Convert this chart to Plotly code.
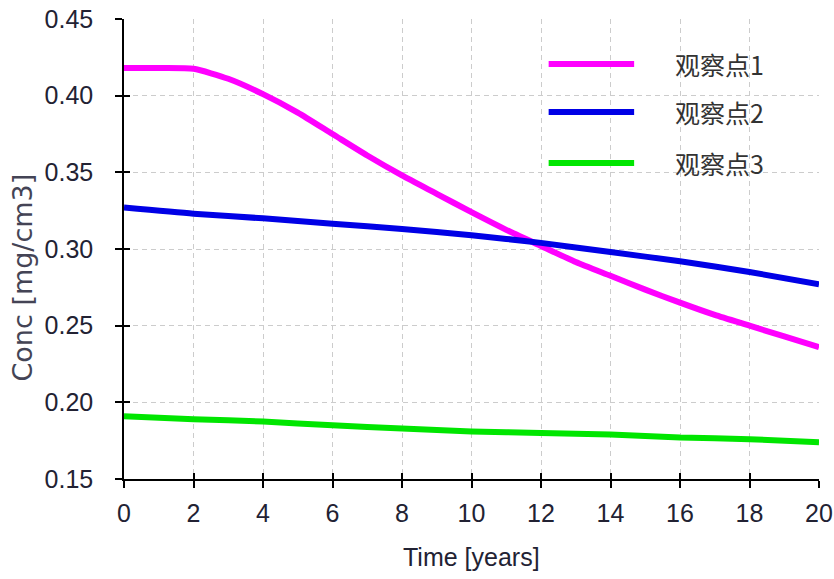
import plotly.graph_objects as go

years_1 = list(range(0, 21))
conc_1 = [0.418, 0.418, 0.4175, 0.411, 0.401, 0.389, 0.375, 0.361, 0.348, 0.336, 0.324,
          0.3125, 0.302, 0.2915, 0.2825, 0.2735, 0.265, 0.257, 0.250, 0.243, 0.236]
years_23 = [0, 2, 4, 6, 8, 10, 12, 14, 16, 18, 20]
conc_2 = [0.327, 0.323, 0.320, 0.3165, 0.313, 0.309, 0.304, 0.298, 0.292, 0.285, 0.277]
conc_3 = [0.191, 0.189, 0.1875, 0.185, 0.183, 0.181, 0.180, 0.179, 0.177, 0.176, 0.174]
names = ["观察点1", "观察点2", "观察点3"]
colors = ["#ff00ff", "#0000e6", "#00e600"]
x_ticks = list(range(0, 21, 2))
y_ticks = [0.15, 0.20, 0.25, 0.30, 0.35, 0.40, 0.45]

fig = go.Figure()
for xs, ys, nm, c in [(years_1, conc_1, names[0], colors[0]),
                      (years_23, conc_2, names[1], colors[1]),
                      (years_23, conc_3, names[2], colors[2])]:
    fig.add_trace(go.Scatter(x=xs, y=ys, mode="lines", name=nm,
                             line=dict(color=c, width=6, shape="spline", smoothing=0.6),
                             showlegend=False))

# custom legend (long line samples)
leg_y = [0.902, 0.798, 0.687]
for nm, c, yy in zip(names, colors, leg_y):
    fig.add_shape(type="line", xref="paper", yref="paper", x0=0.611, x1=0.734, y0=yy, y1=yy,
                  line=dict(color=c, width=6))
    fig.add_annotation(xref="paper", yref="paper", x=0.79, y=yy, text=nm, showarrow=False,
                       xanchor="left", yanchor="middle",
                       font=dict(family="Noto Sans CJK SC", size=25, color="#333333"))

tick_font = dict(family="Liberation Sans", size=25, color="#222233")
axis_common = dict(showline=True, linecolor="black", linewidth=1.5, ticks="outside",
                   ticklen=7, tickwidth=1.5, tickcolor="black", showgrid=True,
                   gridcolor="#cccccc", griddash="5px,4px", gridwidth=1, zeroline=False,
                   tickfont=tick_font, automargin=False, ticklabeloverflow="allow")

fig.update_layout(
    xaxis=dict(range=[0, 20], tickvals=x_ticks, ticklabelstandoff=4, **axis_common),
    yaxis=dict(range=[0.15, 0.45], tickvals=y_ticks, tickformat=".2f",
               ticklabelstandoff=17, **axis_common),
    xaxis2=dict(range=[0, 20], tickvals=x_ticks, overlaying="x", ticks="inside", ticklen=6,
                tickwidth=1.5, tickcolor="black", showticklabels=False, showgrid=False,
                zeroline=False, showline=False, automargin=False),
    yaxis2=dict(range=[0.15, 0.45], tickvals=y_ticks, overlaying="y", ticks="inside",
                ticklen=6, tickwidth=1.5, tickcolor="black", showticklabels=False,
                showgrid=False, zeroline=False, showline=False, automargin=False),
)
# invisible helper trace so the inside-tick axes are drawn
fig.add_trace(go.Scatter(x=[0], y=[0.15], xaxis="x2", yaxis="y2", mode="markers",
                         marker=dict(opacity=0), showlegend=False, hoverinfo="skip"))

# axis titles
fig.add_annotation(xref="paper", yref="paper", x=0.5, y=-0.17, yanchor="middle",
                   text="Time [years]", showarrow=False,
                   font=dict(family="Liberation Sans", size=25, color="#222233"))
fig.add_annotation(xref="paper", yref="paper", x=-0.146, y=0.437, xanchor="center",
                   yanchor="middle", textangle=-90, text="Conc [mg/cm3]", showarrow=False,
                   font=dict(family="DejaVu Sans", size=27, color="#444455"))

fig.update_layout(width=834, height=579, plot_bgcolor="white", paper_bgcolor="white",
                  margin=dict(l=124, r=15, t=19, b=100))

fig.write_html("out.html", config={"displayModeBar": False},
               post_script="document.body.style.margin='0';"
                           "document.documentElement.style.overflow='hidden';"
                           "document.body.style.overflow='hidden';")
